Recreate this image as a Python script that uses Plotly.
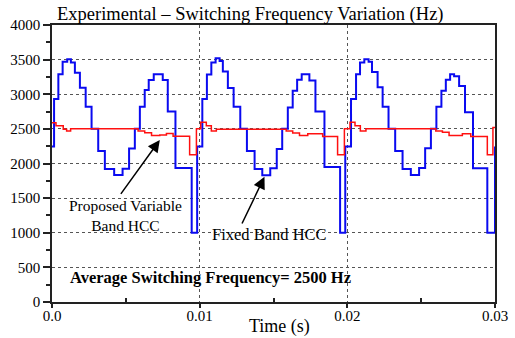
import plotly.graph_objects as go

# Fixed band HCC (blue) step data: time (s), switching frequency (Hz)
t_fixed = [0.0, 0.00014, 0.00043, 0.00072, 0.00103, 0.00128, 0.00155, 0.00189, 0.00228, 0.00268,
           0.00313, 0.00358, 0.00421, 0.00478, 0.00522, 0.00561, 0.00595, 0.00628, 0.00655, 0.00689,
           0.0075, 0.00784, 0.00836, 0.00946, 0.00983,
           0.01018, 0.01049, 0.01079, 0.01108, 0.01135, 0.01157, 0.01191, 0.0123, 0.01275,
           0.0132, 0.01372, 0.01424, 0.01478, 0.01522, 0.01559, 0.01597, 0.0163, 0.0166, 0.01691,
           0.01743, 0.01784, 0.01845, 0.01951, 0.01986,
           0.02025, 0.02059, 0.02086, 0.02115, 0.02144, 0.02167, 0.02205, 0.02239, 0.02279,
           0.02324, 0.02374, 0.0243, 0.02486, 0.02527, 0.02566, 0.02603, 0.02637, 0.02667, 0.02696,
           0.02723, 0.02757, 0.02797, 0.02851, 0.02948, 0.03]
f_fixed = [2245, 2930, 3290, 3470, 3505, 3460, 3310, 3095, 2820, 2500,
           2180, 1920, 1835, 1925, 2215, 2500, 2820, 3060, 3205, 3290,
           3205, 2750, 1935, 1000, 2245,
           2930, 3285, 3460, 3520, 3480, 3330, 3090, 2820, 2500,
           2180, 1920, 1830, 1930, 2210, 2500, 2810, 3050, 3210, 3290,
           3200, 2750, 1950, 1000, 2245,
           2930, 3290, 3460, 3505, 3470, 3320, 3100, 2820, 2500,
           2180, 1920, 1835, 1935, 2220, 2500, 2820, 3050, 3210, 3290,
           3260, 3120, 2740, 1930, 1000, 2245]

# Proposed variable band HCC (red) step data
t_var = [0.0, 0.00027, 0.00076, 0.00099, 0.00126, 0.00583, 0.00628, 0.00674, 0.0073, 0.00775,
         0.0082, 0.00932, 0.00978,
         0.01007, 0.01045, 0.01079, 0.01113, 0.01586, 0.0163, 0.01676, 0.01732, 0.01833,
         0.01934, 0.0198,
         0.02018, 0.02052, 0.02088, 0.02126, 0.02599, 0.02644, 0.02689, 0.02779, 0.02836,
         0.02948, 0.02986, 0.03]
f_var = [2590, 2545, 2495, 2470, 2500, 2470, 2445, 2405, 2412, 2435,
         2392, 2125, 2500,
         2595, 2545, 2470, 2495, 2470, 2440, 2405, 2430, 2390,
         2125, 2500,
         2595, 2545, 2470, 2500, 2470, 2450, 2405, 2430, 2390,
         2125, 2520, 2520]

x_tickvals = [0.0, 0.01, 0.02, 0.03]
x_ticktext = ["0.0", "0.01", "0.02", "0.03"]
y_tickvals = [0, 500, 1000, 1500, 2000, 2500, 3000, 3500, 4000]

SERIF = "Liberation Serif"

fig = go.Figure()
fig.add_trace(go.Scatter(x=t_fixed, y=f_fixed, mode="lines", line=dict(color="#0a0af0", width=2, shape="hv"),
                         showlegend=False, name="Fixed Band HCC"))
fig.add_trace(go.Scatter(x=t_var, y=f_var, mode="lines", line=dict(color="#ff1010", width=1.5, shape="hv"),
                         showlegend=False, name="Proposed Variable Band HCC"))

# arrows
fig.add_annotation(x=0.0073, y=2339, ax=0.00459, ay=1540, xref="x", yref="y", axref="x", ayref="y",
                   text="", showarrow=True, arrowhead=2, arrowsize=1.6, arrowwidth=1.5, arrowcolor="black")
fig.add_annotation(x=0.01439, y=1809, ax=0.01282, ay=1112, xref="x", yref="y", axref="x", ayref="y",
                   text="", showarrow=True, arrowhead=2, arrowsize=1.6, arrowwidth=1.5, arrowcolor="black")
# texts
fig.add_annotation(x=0.00499, y=1245, xref="x", yref="y", text="Proposed Variable<br>Band HCC", showarrow=False,
                   font=dict(family=SERIF, size=15.5, color="black"), xanchor="center", yanchor="middle",
                   align="center")
fig.add_annotation(x=0.01473, y=975, xref="x", yref="y", text="Fixed Band HCC", showarrow=False,
                   font=dict(family=SERIF, size=16.5, color="black"), xanchor="center", yanchor="middle")
fig.add_annotation(x=0.00108, y=361, xref="x", yref="y", text="<b>Average Switching Frequency= 2500 Hz</b>",
                   showarrow=False, font=dict(family=SERIF, size=16.5, color="black"),
                   xanchor="left", yanchor="middle")
# x-axis title
fig.add_annotation(x=0.0154, y=-(326-302)/277, xref="x", yref="paper", text="Time (s)", showarrow=False,
                   font=dict(family=SERIF, size=18, color="black"), xanchor="center", yanchor="middle")

fig.update_layout(
    width=515, height=338,
    margin=dict(l=52, r=20, t=25, b=36),
    paper_bgcolor="white", plot_bgcolor="white",
    title=dict(text="Experimental – Switching Frequency Variation (Hz)", xref="container", x=57/515,
               xanchor="left", yref="container", y=1-14/338, yanchor="middle",
               font=dict(family=SERIF, size=18.5, color="black")),
    font=dict(family=SERIF, color="black"),
)
fig.update_xaxes(range=[0, 0.03], tickvals=x_tickvals, ticktext=x_ticktext, ticks="outside", ticklen=4,
                 tickcolor="#222", tickwidth=1.5, automargin=False, ticklabelstandoff=-5,
                 showline=True, linecolor="#222", linewidth=1.5, mirror=True,
                 showgrid=True, gridcolor="#555", griddash="dot", gridwidth=1, zeroline=False,
                 tickfont=dict(family=SERIF, size=15, color="black"),
                 minor=dict(tickvals=[0.005, 0.015, 0.025], ticks="inside", ticklen=4, tickcolor="#222",
                            showgrid=False))
fig.update_yaxes(range=[0, 4000], tickvals=y_tickvals, ticks="outside", ticklen=7,
                 tickcolor="#222", tickwidth=1.5, automargin=False,
                 showline=True, linecolor="#222", linewidth=1.5, mirror=True,
                 showgrid=True, gridcolor="#555", griddash="dot", gridwidth=1, zeroline=False,
                 tickfont=dict(family=SERIF, size=15, color="black"),
                 minor=dict(dtick=250, ticks="outside", ticklen=4, tickcolor="#222", showgrid=False))

fig.write_html("out.html")
